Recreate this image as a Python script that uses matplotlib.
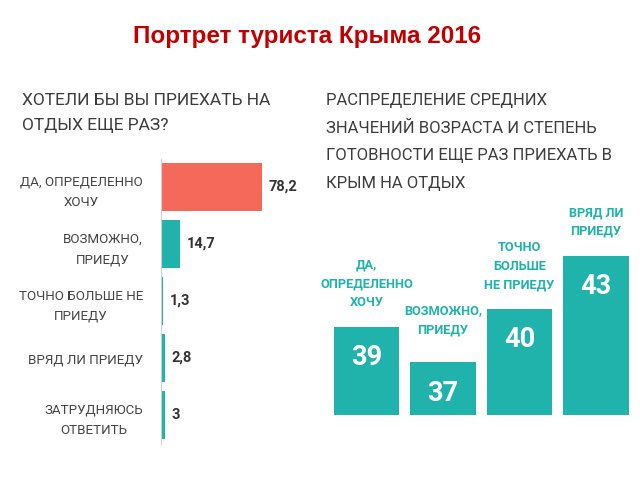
# plot.py
# Портрет туриста Крыма 2016: два столбчатых графика на одном листе

import matplotlib
matplotlib.use("Agg")
import matplotlib.pyplot as plt

# --- данные ---
want_labels = [
    "ДА, ОПРЕДЕЛЕННО\nХОЧУ",
    "ВОЗМОЖНО,\nПРИЕДУ",
    "ТОЧНО БОЛЬШЕ НЕ\nПРИЕДУ",
    "ВРЯД ЛИ ПРИЕДУ",
    "ЗАТРУДНЯЮСЬ\nОТВЕТИТЬ",
]
want_values = [78.2, 14.7, 1.3, 2.8, 3]
want_text = ["78,2", "14,7", "1,3", "2,8", "3"]

age_labels = [
    "ДА,\nОПРЕДЕЛЕННО\nХОЧУ",
    "ВОЗМОЖНО,\nПРИЕДУ",
    "ТОЧНО\nБОЛЬШЕ\nНЕ ПРИЕДУ",
    "ВРЯД ЛИ\nПРИЕДУ",
]
age_values = [39, 37, 40, 43]

RED = "#f4695a"
TEAL = "#1fb3ab"
GRAY = "#3c3c3c"
FONT = ["Roboto", "DejaVu Sans"]

plt.rcParams["font.family"] = FONT

W, H = 640, 480
fig = plt.figure(figsize=(6.4, 4.8), dpi=100)
fig.patch.set_facecolor("white")


def px_axes(x0, y0, x1, y1):
    # прямоугольник в пикселях (y сверху вниз) -> axes
    return fig.add_axes([x0 / W, 1 - y1 / H, (x1 - x0) / W, (y1 - y0) / H])


# заголовок
fig.text(307 / W, 1 - 37 / H, "Портрет туриста Крыма 2016", ha="center", va="center",
         fontsize=17.5, fontweight="bold", color="#c00000", family="Liberation Sans")

# (1) левый график
fig.text(22 / W, 1 - 113 / H, "ХОТЕЛИ БЫ ВЫ ПРИЕХАТЬ НА\nОТДЫХ ЕЩЕ РАЗ?", ha="left", va="center",
         fontsize=12.5, color=GRAY, linespacing=1.8)

pitch = 57
ax1 = px_axes(161, 187 - 0.6 * pitch, 161 + 129, 187 + 4.6 * pitch)
ypos = list(range(len(want_values)))
colors = [RED] + [TEAL] * (len(want_values) - 1)
ax1.barh(ypos, want_values, height=0.84, color=colors)
ax1.set_xlim(0, 100)
ax1.set_ylim(4.6, -0.6)
for sp in ["top", "right", "bottom"]:
    ax1.spines[sp].set_visible(False)
ax1.spines["left"].set_color("#d0d0d0")
ax1.spines["left"].set_linewidth(0.8)
ax1.spines["left"].set_bounds(-0.5, 4.5)
ax1.set_xticks([])
ax1.set_yticks(ypos)
ax1.set_yticklabels(want_labels, fontsize=9.6, color="#444444", ma="center", linespacing=1.75)
ax1.tick_params(axis="y", length=0, pad=13)
for y, v, t in zip(ypos, want_values, want_text):
    ax1.annotate(t, (v, y), xytext=(5, 0), textcoords="offset points", ha="left", va="center",
                 fontsize=10.5, fontweight="bold", color="#333333")
ax1.patch.set_alpha(0)

# (2) правый график
fig.text(326 / W, 1 - 142 / H,
         "РАСПРЕДЕЛЕНИЕ СРЕДНИХ\nЗНАЧЕНИЙ ВОЗРАСТА И СТЕПЕНЬ\nГОТОВНОСТИ ЕЩЕ РАЗ ПРИЕХАТЬ В\nКРЫМ НА ОТДЫХ",
         ha="left", va="center", fontsize=12, color=GRAY, linespacing=2.05)

col = 76.5
unit = 17.8
y_bottom = 34.05
y_top = 48.0
ax2 = px_axes(366.5 - 0.6 * col, 415 - (y_top - y_bottom) * unit, 366.5 + 3.6 * col, 415)
xpos = list(range(len(age_values)))
ax2.bar(xpos, age_values, width=0.85, color=TEAL)
ax2.set_xlim(-0.6, 3.6)
ax2.set_ylim(y_bottom, y_top)
ax2.axis("off")
gaps = [13, 19, 13, 13]
for x, v, lab, g in zip(xpos, age_values, age_labels, gaps):
    ax2.annotate(str(v), (x, v), xytext=(0, -22), textcoords="offset points", ha="center", va="center",
                 fontsize=19.5, fontweight="bold", color="white")
    ax2.annotate(lab, (x, v), xytext=(0, g), textcoords="offset points", ha="center", va="bottom",
                 fontsize=9.2, fontweight="bold", color=TEAL, linespacing=1.55)

fig.savefig("out.png", dpi=100)
plt.close(fig)
